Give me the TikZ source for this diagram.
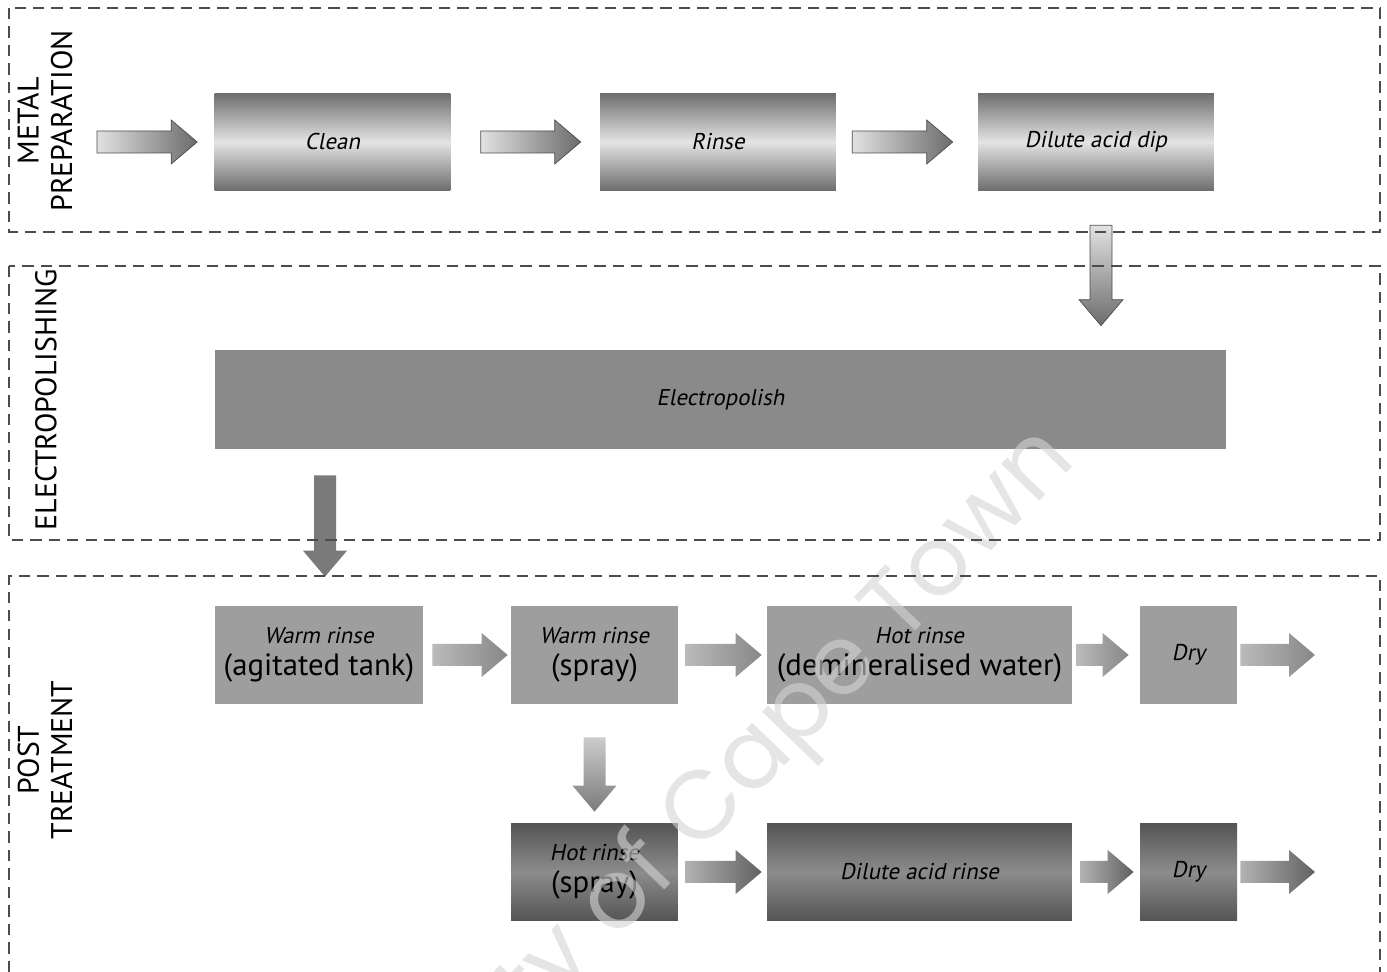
\documentclass[tikz,border=0pt]{standalone}
\usepackage{fontspec}
\setmainfont{PT Sans}[ItalicFont={PT Sans},ItalicFeatures={FakeSlant=0.2}]
\newfontfamily\markfont{Poppins}
\usetikzlibrary{calc, positioning}

\definecolor{metaldark}{HTML}{6C6C6C}
\definecolor{metallight}{HTML}{E4E4E4}
\definecolor{polishgray}{HTML}{8A8A8A}
\definecolor{rinsegray}{HTML}{9E9E9E}
\definecolor{finaldark}{HTML}{545454}
\definecolor{finalmid}{HTML}{8C8C8C}
\definecolor{markgray}{HTML}{D4D4D4}

% block arrow between two points at the same height
\newcommand{\harrow}[5][]{%
  \path[#1] ($(#2)+(#4,-11)$) -- ($(#3)+(-26-#5,-11)$) -- ($(#3)+(-26-#5,-22)$)
    -- ($(#3)+(-#5,0)$) -- ($(#3)+(-26-#5,22)$) -- ($(#3)+(-26-#5,11)$)
    -- ($(#2)+(#4,11)$) -- cycle;}
% block arrow pointing down
\newcommand{\varrow}[5][]{%
  \coordinate (va) at (#2);
  \coordinate (vb) at (va |- #3);
  \path[#1] ($(va)+(-11,#4)$) -- ($(vb)+(-11,-26-#5)$) -- ($(vb)+(-22,-26-#5)$)
    -- ($(vb)+(0,-#5)$) -- ($(vb)+(22,-26-#5)$) -- ($(vb)+(11,-26-#5)$)
    -- ($(va)+(11,#4)$) -- cycle;}

\begin{document}
\begin{tikzpicture}[x=0.02cm, y=-0.02cm,
    frame/.style={draw=black!70, line width=0.6pt, dash pattern=on 6.5pt off 4pt},
    phase/.style={rotate=90, align=center, font=\fontsize{17}{19}\selectfont},
    box/.style={inner sep=0pt, minimum height=1.96cm, align=center,
        font=\fontsize{13}{15}\selectfont\itshape},
    metalbox/.style={box, top color=metaldark, bottom color=metaldark, middle color=metallight},
    polishbox/.style={box, fill=polishgray},
    rinsebox/.style={box, fill=rinsegray},
    finalbox/.style={box, top color=finaldark, bottom color=finaldark, middle color=finalmid},
    metalarrow/.style={draw=black!70, line width=0.4pt, left color=metallight!110, right color=metaldark},
    rinsearrow/.style={left color=black!27, right color=black!47},
    finalarrow/.style={left color=black!30, right color=black!62},
]
\useasboundingbox (0,0) rectangle (1387,972);

% phase labels
\node[phase] (prep) at (45,121) {METAL\\PREPARATION};
\node[phase] (polish) at (46,400) {ELECTROPOLISHING};
\node[phase] (post) at (45,760) {POST\\TREATMENT};

% metal preparation
\node[metalbox, minimum width=4.72cm] (clean) at (332.5,142) {Clean};
\node[metalbox, minimum width=4.72cm] (rinse) at (718,142) {Rinse};
\node[metalbox, minimum width=4.72cm] (dip) at (1096,142) {Dilute acid dip};

% electropolishing
\node[polishbox, minimum width=20.22cm, minimum height=1.98cm] (electro) at (720.5,399.5) {Electropolish};

% post treatment
\node[rinsebox, minimum width=4.16cm] (warm1) at (319,655)
    {Warm rinse\\[3pt]{\upshape\fontsize{17.5}{20}\selectfont (agitated tank)}};
\node[rinsebox, minimum width=3.34cm] (spray1) at (594.5,655)
    {Warm rinse\\[3pt]{\upshape\fontsize{17.5}{20}\selectfont (spray)}};
\node[rinsebox, minimum width=6.1cm] (hot1) at (919.5,655)
    {Hot rinse\\[3pt]{\upshape\fontsize{17.5}{20}\selectfont (demineralised water)}};
\node[rinsebox, minimum width=1.94cm] (dry1) at (1188.5,655) {Dry};

\node[finalbox, minimum width=3.34cm] (hot2) at (594.5,872)
    {Hot rinse\\[3pt]{\upshape\fontsize{17.5}{20}\selectfont (spray)}};
\node[finalbox, minimum width=6.1cm] (acid) at (919.5,872) {Dilute acid rinse};
\node[finalbox, minimum width=1.94cm] (dry2) at (1188.5,872) {Dry};

% free ends
\coordinate (feed) at (97,142);
\coordinate (out1) at (1315,655);
\coordinate (out2) at (1315,872);

% arrows
\harrow[metalarrow]{feed}{clean.west}{0}{17}
\harrow[metalarrow]{clean.east}{rinse.west}{30}{19}
\harrow[metalarrow]{rinse.east}{dip.west}{16}{25}
\varrow[draw=black!70, line width=0.4pt, top color=metallight!110, bottom color=metaldark]{$(dip.south)+(5,0)$}{electro.north}{34}{24}
\varrow[fill=black!52]{$(warm1.north |- electro.south)+(6,0)$}{warm1.north}{26}{29}

\harrow[rinsearrow]{warm1.east}{spray1.west}{9}{3}
\harrow[rinsearrow]{spray1.east}{hot1.west}{7}{5}
\harrow[rinsearrow]{hot1.east}{dry1.west}{4}{11}
\harrow[rinsearrow]{dry1.east}{out1}{3}{0}
\varrow[top color=black!20, bottom color=black!52]{spray1.south}{hot2.north}{33}{11}

\harrow[finalarrow]{hot2.east}{acid.west}{7}{5}
\harrow[finalarrow]{acid.east}{dry2.west}{8}{6}
\harrow[finalarrow]{dry2.east}{out2}{3}{0}

% scan watermark
\node[anchor=base east, rotate=46, text=markgray, opacity=0.6, font=\markfont\fontsize{55}{55}\selectfont]
    (mark) at (1082,458) {University of Cape Town};

% phase frames
\draw[frame] (9,8) rectangle (1380,232);
\draw[frame] (9,266) rectangle (1380,540);
\draw[frame] (9,972) -- (9,576) -- (1380,576) -- (1380,972);
\end{tikzpicture}
\end{document}
